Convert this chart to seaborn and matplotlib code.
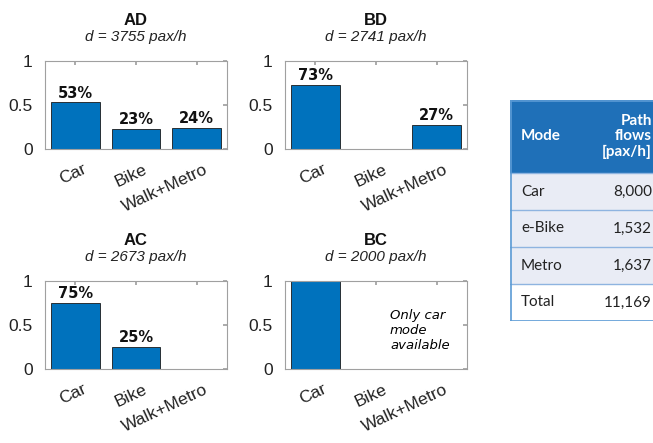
import matplotlib
matplotlib.use("Agg")
import matplotlib.pyplot as plt
import matplotlib.transforms as mtransforms
from matplotlib.patches import Rectangle
import pandas as pd
import seaborn as sns

sns.set_theme(style="white")
plt.rcParams['font.family'] = ['Liberation Sans', 'DejaVu Sans']

# mode shares per OD pair
modes = ["Car", "Bike", "Walk+Metro"]
od_pairs = ["AD", "BD", "AC", "BC"]
demand = [3755, 2741, 2673, 2000]
shares = {
    "AD": [0.53, 0.23, 0.24],
    "BD": [0.73, 0.0, 0.27],
    "AC": [0.75, 0.25, 0.0],
    "BC": [1.0, 0.0, 0.0],
}

# path flow table
table_modes = ["Car", "e-Bike", "Metro", "Total"]
table_flows = ["8,000", "1,532", "1,637", "11,169"]

bar_color = "#0072BD"
W, H = 653, 443

fig = plt.figure(figsize=(W / 100, H / 100), dpi=100)

# axes boxes in pixels: left, top
boxes = {"AD": (45, 61), "BD": (285, 61), "AC": (45, 281), "BC": (285, 281)}
aw, ah = 182, 88

for od, d in zip(od_pairs, demand):
    left, top = boxes[od]
    ax = fig.add_axes([left / W, (H - top - ah) / H, aw / W, ah / H])
    df = pd.DataFrame({"mode": modes, "share": shares[od]})
    sns.barplot(data=df, x="mode", y="share", order=modes, color=bar_color,
                saturation=1, width=0.8, edgecolor="#1a1a1a", linewidth=0.6, ax=ax)
    for i, v in enumerate(shares[od]):
        if 0 < v < 1:
            ax.text(i, v + 0.02, "{}%".format(round(v * 100)), ha="center", va="bottom",
                    fontsize=10.5, fontweight="bold", family="DejaVu Sans", color="#111111")
    ax.set_xlim(-0.5, 2.5)
    ax.set_ylim(0, 1)
    ax.set_yticks([0, 0.5, 1])
    ax.set_yticklabels(["0", "0.5", "1"])
    ax.set_xlabel("")
    ax.set_ylabel("")
    for s in ax.spines.values():
        s.set_color("#a0a0a0")
        s.set_linewidth(0.8)
    ax.tick_params(axis="both", direction="in", length=3, color="#a0a0a0",
                   top=True, right=True, labelsize=12.5, labelcolor="#222222")
    ax.tick_params(axis="y", pad=9)
    ax.tick_params(axis="x", pad=9)
    offset = mtransforms.ScaledTranslation(7 / 100, 0, fig.dpi_scale_trans)
    for lab in ax.get_xticklabels():
        lab.set_rotation(25)
        lab.set_ha("right")
        lab.set_va("top")
        lab.set_rotation_mode("anchor")
        lab.set_transform(lab.get_transform() + offset)
    ax.text(0.5, 1.46, od, transform=ax.transAxes, ha="center", va="center",
            fontsize=12, fontweight="bold", color="#111111")
    ax.text(0.5, 1.27, "d = {} pax/h".format(d), transform=ax.transAxes, ha="center",
            va="center", fontsize=11, style="italic", color="#222222")
    if od == "BC":
        ax.text(1.23, 0.44, "Only car\nmode\navailable", ha="left", va="center",
                fontsize=9.5, style="italic", family="DejaVu Sans", color="#000000",
                linespacing=1.2)

# table on the right
tx, ty, tw, th = 510, 100, 150, 221
tax = fig.add_axes([tx / W, (H - ty - th) / H, tw / W, th / H])
tax.set_xlim(0, tw)
tax.set_ylim(th, 0)
tax.axis("off")
head_h, row_h = 73, 37
tax.add_patch(Rectangle((0, 0), tw, head_h, facecolor="#1F70B8", edgecolor="none"))
tax.text(11, head_h / 2, "Mode", ha="left", va="center", color="white",
         fontsize=11, fontweight="bold", family="Lato")
tax.text(142, head_h / 2, "Path\nflows\n[pax/h]", ha="right", va="center", color="white",
         fontsize=11, fontweight="bold", family="Lato", linespacing=1.15)
for i, (m, f) in enumerate(zip(table_modes, table_flows)):
    y0 = head_h + i * row_h
    fc = "#E9ECF5" if m != "Total" else "white"
    tax.add_patch(Rectangle((0, y0), tw, row_h, facecolor=fc, edgecolor="none"))
    tax.plot([0, tw], [y0, y0], color="#8EB4E0", lw=1)
    tax.text(11, y0 + row_h / 2, m, ha="left", va="center", color="#222222",
             fontsize=11, family="Lato")
    tax.text(142, y0 + row_h / 2, f, ha="right", va="center", color="#222222",
             fontsize=11, family="Lato")
tax.plot([0.5, 0.5], [0, th - 0.5], color="#5B9BD5", lw=1.2)
tax.plot([0, tw], [th - 0.5, th - 0.5], color="#5B9BD5", lw=1.2)
tax.plot([0, tw], [0.5, 0.5], color="#5B9BD5", lw=1.2)

fig.savefig("out.png", dpi=100)
